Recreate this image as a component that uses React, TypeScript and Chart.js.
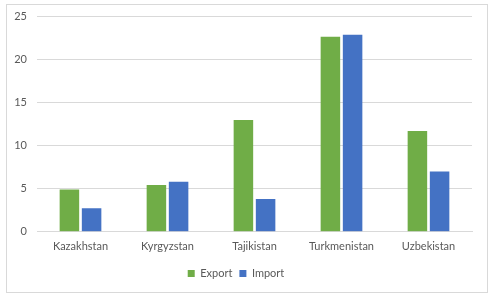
import React, { useEffect, useRef } from "react";
import { Chart, registerables } from "chart.js";

Chart.register(...registerables);

const categories = ["Kazakhstan", "Kyrgyzstan", "Tajikistan", "Turkmenistan", "Uzbekistan"];
const exportValues = [4.9, 5.45, 13.0, 22.65, 11.7];
const importValues = [2.75, 5.8, 3.8, 22.9, 7.0];
const yTicks = [0, 5, 10, 15, 20, 25];

export default function App() {
  const ref = useRef<HTMLCanvasElement | null>(null);

  useEffect(() => {
    document.body.style.margin = "0";
    const ctx = ref.current!;
    const font = { family: "Lato, 'Open Sans', sans-serif", size: 11 };
    const chart = new Chart(ctx, {
      type: "bar",
      data: {
        labels: categories,
        datasets: [
          { label: "Export", data: exportValues, backgroundColor: "#70AD47", borderWidth: 0 },
          { label: "Import", data: importValues, backgroundColor: "#4472C4", borderWidth: 0 },
        ],
      },
      options: {
        animation: false,
        responsive: false,
        devicePixelRatio: 1,
        datasets: { bar: { categoryPercentage: 0.51, barPercentage: 0.88 } },
        layout: { padding: { top: 15, right: 22, bottom: 10, left: 0 } },
        plugins: {
          tooltip: { enabled: false },
          legend: {
            position: "bottom",
            labels: {
              boxWidth: 7,
              boxHeight: 7,
              padding: 7,
              color: "#595959",
              font,
            },
          },
        },
        scales: {
          x: {
            grid: { display: false, drawTicks: false },
            border: { display: true, color: "#d9d9d9" },
            ticks: { color: "#595959", font, padding: 8 },
          },
          y: {
            min: 0,
            max: 25,
            afterBuildTicks: (s: any) => {
              s.ticks = yTicks.map((v) => ({ value: v }));
            },
            afterFit: (s: any) => {
              s.width = 37;
            },
            grid: { color: "#d9d9d9", drawTicks: false },
            border: { display: false },
            ticks: { color: "#595959", font, padding: 10 },
          },
        },
      },
    });
    return () => chart.destroy();
  }, []);

  return (
    <div style={{ position: "relative", width: 494, height: 299, background: "#fff" }}>
      <canvas ref={ref} width={494} height={299} style={{ position: "absolute", left: 0, top: 0 }} />
      <div
        style={{
          position: "absolute",
          left: 6,
          top: 4,
          width: 480,
          height: 287,
          border: "1px solid #d9d9d9",
          pointerEvents: "none",
        }}
      />
    </div>
  );
}
